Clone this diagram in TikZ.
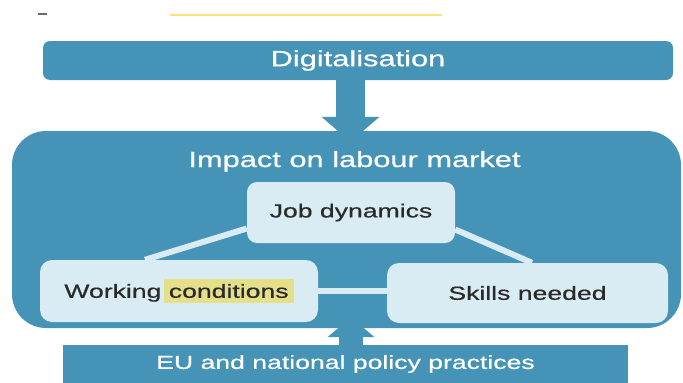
\documentclass[tikz,border=0pt]{standalone}
\usepackage{fontspec}
\setmainfont{Liberation Sans}[FakeStretch=1.4, FakeBold=0.6]
\usetikzlibrary{arrows.meta}

\definecolor{panel}{HTML}{4593B6}
\definecolor{pale}{HTML}{DAECF3}
\definecolor{ink}{HTML}{2A2A2A}
\definecolor{hilite}{HTML}{E4E08A}
\definecolor{marker}{HTML}{FBE27A}
\newcommand{\marked}[1]{{\fboxsep=5pt\colorbox{hilite}{#1}}}

\begin{document}
\begin{tikzpicture}[x=1pt, y=-1pt,
    bluebox/.style={fill=panel, text=white, inner sep=0pt, font=\fontsize{19}{22}\selectfont},
    palebox/.style={fill=pale, text=ink, rounded corners=12pt, inner sep=0pt, font=\fontsize{19}{22}\selectfont},
    link/.style={draw=pale, line width=6pt},
    bigfont/.style={font=\fontsize{22}{26}\selectfont}]
      \useasboundingbox (0,0) rectangle (683,383);
      \fill[marker] (170,14) rectangle (442,16);
      \fill[ink!70] (38,13) rectangle (47,15);

      % Nodes
      \node[bluebox, bigfont, rounded corners=7pt, minimum width=630pt, minimum height=39pt] (digi) at (358, 60.5) {Digitalisation};
      \node[bluebox, rounded corners=34pt, minimum width=669pt, minimum height=197pt] (impact) at (346.5, 229.5) {};
      \node[text=white, bigfont, anchor=base, inner sep=0pt] (impacttitle) at (354.5, 167) {Impact on labour market};
      \node[bluebox, minimum width=565pt, minimum height=38pt] (policy) at (345.5, 364) {EU and national policy practices};

      % Arrows
      \draw[panel, line width=29pt, -{Triangle[length=25pt, width=58pt, line width=0pt]}] ([xshift=-7.5pt]digi.south) -- ([xshift=4pt, yshift=-11pt]impact.north);
      \draw[panel, line width=24pt, -{Triangle[length=20pt, width=47pt, line width=0pt]}] ([xshift=5.5pt]policy.north) -- ([xshift=4.5pt, yshift=11pt]impact.south);

      \node[palebox, rounded corners=10pt, minimum width=208pt, minimum height=61pt] (job) at (351, 212.5) {Job dynamics};
      \node[palebox, minimum width=278pt, minimum height=62pt] (working) at (179, 291) {Working\hspace{-5pt} \marked{conditions}};
      \node[palebox, minimum width=281pt, minimum height=60pt] (skills) at (527.5, 293) {Skills needed};

      % Edges
      \draw[link] ([yshift=-16pt]job.west) -- ([xshift=-34pt]working.north);
      \draw[link] ([yshift=-17pt]job.east) -- ([xshift=4.5pt]skills.north);
      \draw[link] (working.east) -- (working.east -| skills.west);
\end{tikzpicture}
\end{document}
